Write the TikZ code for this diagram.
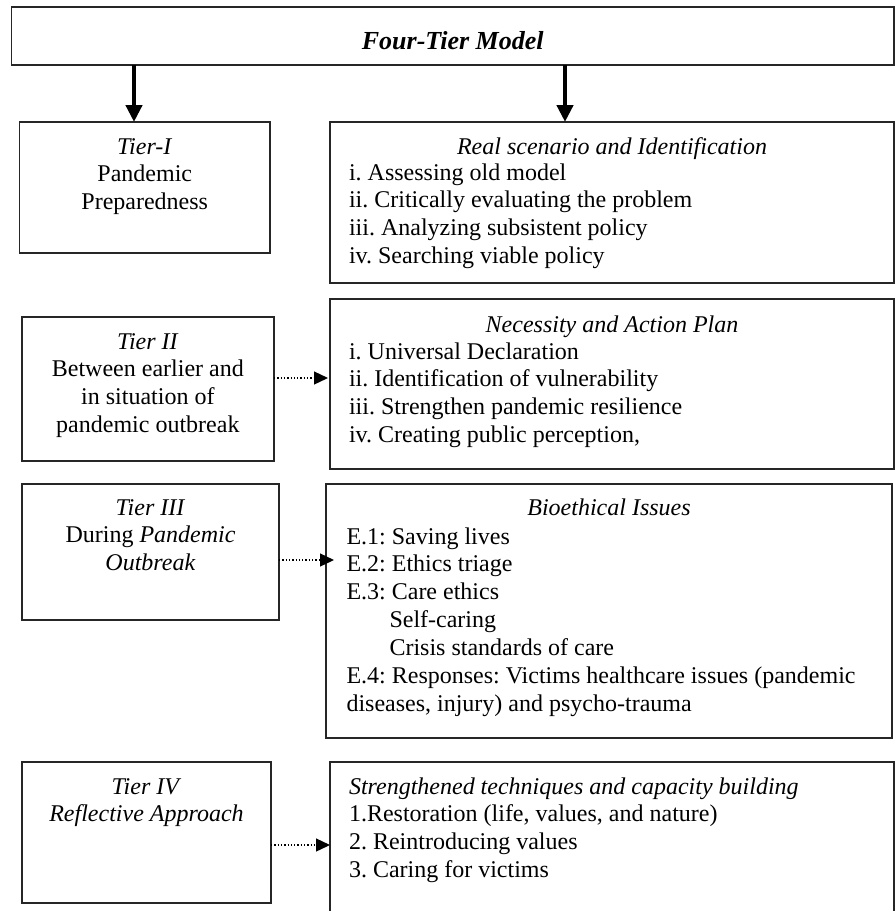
\documentclass[tikz,border=0pt]{standalone}
\usepackage{fontspec}
\setmainfont{Liberation Serif}
\usetikzlibrary{arrows.meta}
\frenchspacing
\begin{document}
\begin{tikzpicture}[x=1pt,y=-1pt,
  box/.style={draw=black!85, line width=1.6pt, inner sep=0pt, outer sep=0pt, anchor=north west},
  txt/.style={inner sep=0pt, outer sep=0pt, font=\frenchspacing\fontsize{24}{27.9}\selectfont},
  ctxt/.style={txt, align=center, anchor=north},
  ltxt/.style={txt, align=left, anchor=north west},
  bigarrow/.style={line width=4.5pt, -{Triangle[length=17pt,width=16pt]}},
  dotarrow/.style={line width=1.3pt, dotted, -{Triangle[length=14pt,width=13pt]}}]
\useasboundingbox (0,0) rectangle (896,911);

% boxes
\node[box, minimum width=882.5pt, minimum height=58pt] (top) at (11.5,7) {};
\node[box, minimum width=250.5pt, minimum height=131pt] (t1) at (19.5,122) {};
\node[box, minimum width=564pt, minimum height=161pt] (real) at (330,122) {};
\node[box, minimum width=252.3pt, minimum height=144pt] (t2) at (21.7,317) {};
\node[box, minimum width=564pt, minimum height=170pt] (nec) at (330,299) {};
\node[box, minimum width=257pt, minimum height=136pt] (t3) at (22,484) {};
\node[box, minimum width=566pt, minimum height=254pt] (bio) at (326,484) {};
\node[box, minimum width=249pt, minimum height=141pt] (t4) at (22,762) {};
\node[box, minimum width=564pt, minimum height=170pt] (str) at (330,762) {};

% title
\node[inner sep=0pt, anchor=base, font=\fontsize{26}{30}\selectfont\bfseries\itshape] (title) at ([yshift=-42pt]top.north) {Four-Tier Model};

% left texts
\node[ctxt] (t1txt) at (t1.center |- 0,134.5) {\strut\textit{Tier-I}\\Pandemic\\Preparedness};
\node[ctxt] (t2txt) at (t2.center |- 0,329.5) {\strut\textit{Tier II}\\Between earlier and\\in situation of\\pandemic outbreak};
\node[ctxt] (t3txt) at (t3.center |- 0,495.5) {\strut\textit{Tier III}\\During \textit{Pandemic}\\\textit{Outbreak}};
\node[ctxt] (t4txt) at (t4.center |- 0,774.5) {\strut\textit{Tier IV}\\\textit{Reflective Approach}};

% right texts
\node[ctxt] (realtitle) at (real.center |- 0,134.5) {\strut\textit{Real scenario and Identification}};
\node[ltxt] (realitems) at (349,160.5) {\strut i. Assessing old model\\ii. Critically evaluating the problem\\iii. Analyzing subsistent policy\\iv. Searching viable policy};

\node[ctxt] (nectitle) at (nec.center |- 0,312.5) {\strut\textit{Necessity and Action Plan}};
\node[ltxt] (necitems) at (349,339.5) {\strut i. Universal Declaration\\ii. Identification of vulnerability\\iii. Strengthen pandemic resilience\\iv. Creating public perception,};

\node[ctxt] (biotitle) at (bio.center |- 0,495.5) {\strut\textit{Bioethical Issues}};
\node[ltxt] (bioitems) at (346.5,524.5) {\strut E.1: Saving lives\\E.2: Ethics triage\\E.3: Care ethics\\\hspace*{43pt}Self-caring\\\hspace*{43pt}Crisis standards of care\\E.4: Responses: Victims healthcare issues (pandemic\\diseases, injury) and psycho-trauma};

\node[ltxt] (stritems) at (349,774.5) {\strut\textit{Strengthened techniques and capacity building}\\1.Restoration (life, values, and nature)\\2. Reintroducing values\\3. Caring for victims};

% connectors
\coordinate (ax1) at (134,0);
\coordinate (ax2) at (565,0);
\draw[bigarrow] (ax1 |- top.south) -- (ax1 |- t1.north);
\draw[bigarrow] (ax2 |- top.south) -- (ax2 |- real.north);

\coordinate (d2) at (0,378);
\coordinate (d3) at (0,560);
\coordinate (d4) at (0,845);
\draw[dotarrow] (t2.east |- d2) -- ([xshift=-2pt]nec.west |- d2);
\draw[dotarrow] (t3.east |- d3) -- ([xshift=8pt]bio.west |- d3);
\draw[dotarrow] (t4.east |- d4) -- (str.west |- d4);
\end{tikzpicture}
\end{document}
